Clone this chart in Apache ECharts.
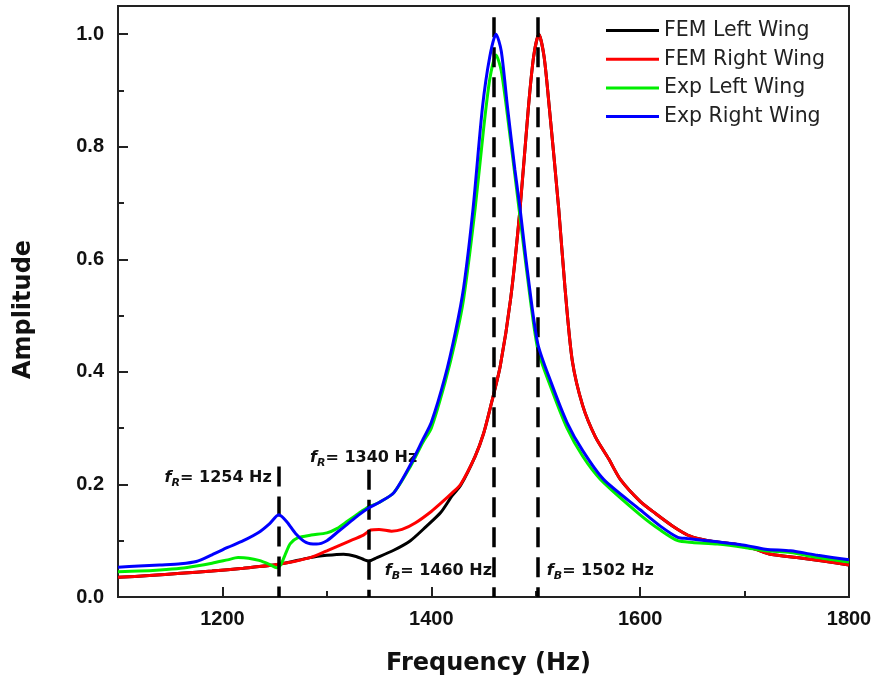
<!DOCTYPE html>
<html>
<head>
<meta charset="utf-8">
<script src="https://cdn.jsdelivr.net/npm/echarts@6/dist/echarts.min.js"></script>
<style>html,body{margin:0;padding:0;background:#fff}#c{width:875px;height:679px}</style>
</head>
<body>
<div id="c"></div>
<script>
// ---- Data ----
const femLeftFreq = [1100,1130,1160,1190,1220,1254,1284,1300,1316,1328,1336,1340,1348,1364,1380,1395,1409,1420,1428,1442,1450,1457,1466,1476,1485,1493,1498,1503,1508,1513,1522,1528,1535,1545,1557,1570,1581,1600,1615,1632,1648,1665,1690,1710,1725,1750,1775,1800];
const femLeftAmp  = [0.035,0.038,0.042,0.046,0.051,0.058,0.070,0.074,0.076,0.072,0.066,0.064,0.070,0.083,0.100,0.125,0.150,0.180,0.198,0.250,0.290,0.340,0.410,0.530,0.690,0.870,0.960,1.000,0.960,0.870,0.690,0.550,0.420,0.340,0.285,0.245,0.209,0.170,0.148,0.125,0.108,0.100,0.094,0.085,0.076,0.070,0.064,0.057];

const femRightFreq = [1100,1130,1160,1190,1220,1254,1284,1300,1320,1335,1342,1350,1362,1372,1385,1400,1410,1420,1428,1442,1450,1457,1466,1476,1485,1493,1498,1503,1508,1513,1522,1528,1535,1545,1557,1570,1581,1600,1615,1632,1648,1665,1690,1710,1725,1750,1775,1800];
const femRightAmp  = [0.035,0.038,0.042,0.046,0.051,0.058,0.070,0.082,0.098,0.110,0.119,0.120,0.117,0.120,0.132,0.152,0.168,0.185,0.200,0.250,0.290,0.340,0.410,0.530,0.690,0.870,0.960,1.000,0.960,0.870,0.690,0.550,0.420,0.340,0.285,0.245,0.209,0.170,0.148,0.125,0.108,0.100,0.094,0.085,0.076,0.070,0.064,0.057];

const expLeftFreq = [1100,1120,1140,1160,1175,1190,1205,1215,1225,1235,1245,1252,1256,1260,1265,1272,1285,1300,1310,1320,1330,1340,1350,1364,1380,1392,1400,1413,1423,1431,1442,1450,1456,1462,1467,1474,1484,1492,1502,1515,1530,1545,1562,1600,1620,1636,1650,1674,1700,1720,1744,1770,1800];
const expLeftAmp  = [0.045,0.046,0.048,0.051,0.055,0.060,0.066,0.070,0.069,0.065,0.058,0.052,0.058,0.075,0.095,0.105,0.110,0.114,0.122,0.135,0.148,0.160,0.168,0.185,0.232,0.275,0.300,0.380,0.455,0.530,0.690,0.830,0.920,0.963,0.935,0.840,0.690,0.570,0.440,0.370,0.300,0.250,0.209,0.146,0.118,0.100,0.097,0.094,0.088,0.082,0.079,0.070,0.062];

const expRightFreq = [1100,1120,1140,1160,1175,1190,1205,1220,1235,1245,1254,1262,1270,1280,1290,1300,1310,1320,1330,1340,1350,1364,1380,1392,1400,1413,1423,1431,1440,1449,1456,1462,1467,1473,1480,1485,1492,1502,1515,1530,1545,1565,1600,1620,1636,1645,1674,1700,1720,1744,1770,1800];
const expRightAmp  = [0.053,0.055,0.057,0.059,0.063,0.075,0.088,0.100,0.115,0.130,0.146,0.133,0.113,0.097,0.094,0.100,0.115,0.130,0.145,0.158,0.168,0.185,0.235,0.280,0.310,0.390,0.470,0.550,0.690,0.870,0.960,1.000,0.970,0.870,0.760,0.690,0.580,0.450,0.380,0.310,0.260,0.209,0.155,0.125,0.106,0.104,0.098,0.092,0.085,0.082,0.074,0.066];

const seriesNames = ['FEM Left Wing','FEM Right Wing','Exp Left Wing','Exp Right Wing'];

// Marked frequencies (dashed lines) and their labels
const markFreq = [1254, 1340, 1460, 1502];
const markTop  = [0.232, 0.226, 1.03, 1.03];
const markSub  = ['R', 'R', 'B', 'B'];
const markLabelY = [0.212, 0.248, 0.046, 0.046];

// Tick values
const xMajorTicks = [1200, 1400, 1600, 1800];
const xMinorTicks = [1300, 1500, 1700];
const yMajorTicks = [0, 0.2, 0.4, 0.6, 0.8, 1.0];
const yMinorTicks = [0.1, 0.3, 0.5, 0.7, 0.9];

// ---- Chart ----
const zip = (xs, ys) => xs.map((x, i) => [x, ys[i]]);
const colors = ['#000000', '#ff0000', '#00ee00', '#0000ff'];
const dataSets = [
  zip(femLeftFreq, femLeftAmp),
  zip(femRightFreq, femRightAmp),
  zip(expLeftFreq, expLeftAmp),
  zip(expRightFreq, expRightAmp)
];

const lineSeries = seriesNames.map((name, i) => ({
  name: name,
  type: 'line',
  data: dataSets[i],
  smooth: 0.25,
  showSymbol: false,
  symbol: 'none',
  color: colors[i],
  lineStyle: { color: colors[i], width: 3 },
  z: 2 + i
}));

const labelPos = ['left', 'inside', 'left', 'right'];
const labelDist = [7, 0, 2, 9];
const labelOffset = [[0,0], [-5,0], [0,0], [0,0]];

const richStyle = {
  f: { fontFamily: 'DejaVu Sans', fontWeight: 'bold', fontStyle: 'italic', fontSize: 16, color: '#111', lineHeight: 22, verticalAlign: 'middle' },
  s: { fontFamily: 'DejaVu Sans', fontWeight: 'bold', fontStyle: 'italic', fontSize: 11, color: '#111', lineHeight: 22, verticalAlign: 'bottom' },
  t: { fontFamily: 'DejaVu Sans', fontWeight: 'bold', fontSize: 16, color: '#111', lineHeight: 22, verticalAlign: 'middle' }
};

const helperSeries = {
  name: 'markers',
  type: 'line',
  data: [],
  z: 10,
  silent: true,
  markLine: {
    silent: true,
    symbol: ['none', 'none'],
    label: { show: false },
    lineStyle: { color: '#000', width: 3.5, type: [20, 10] },
    emphasis: { disabled: true },
    data: markFreq.map((f, i) => [{ coord: [f, markTop[i]] }, { coord: [f, 0] }])
  },
  markPoint: {
    silent: true,
    symbol: 'circle',
    symbolSize: 0,
    data: markFreq.map((f, i) => ({
      coord: [f, markLabelY[i]],
      label: {
        show: true,
        position: labelPos[i],
        distance: labelDist[i],
        offset: labelOffset[i],
        formatter: '{f|f}{s|' + markSub[i] + '}{t|= ' + f + ' Hz}',
        rich: richStyle
      }
    }))
  }
};

const axisColor = '#222';
const chart = echarts.init(document.getElementById('c'), null, { renderer: 'canvas' });
chart.setOption({
  animation: false,
  backgroundColor: '#fff',
  grid: { left: 118, right: 26, top: 6, bottom: 82, show: true, borderColor: axisColor, borderWidth: 2, containLabel: false, outerBoundsMode: 'none' },
  legend: {
    data: seriesNames,
    orient: 'vertical',
    left: 606,
    top: 20,
    padding: 0,
    itemGap: 7.7,
    itemWidth: 53,
    itemHeight: 3,
    icon: 'rect',
    textStyle: { fontFamily: 'DejaVu Sans', fontSize: 20.5, color: '#222' },
    selectedMode: false
  },
  xAxis: [{
    type: 'value',
    min: 1100, max: 1800,
    name: 'Frequency (Hz)',
    nameLocation: 'middle',
    nameGap: 55,
    nameTextStyle: { fontFamily: 'DejaVu Sans', fontWeight: 'bold', fontSize: 24, color: '#111', padding: [0, 0, 0, 10] },
    axisLine: { show: true, lineStyle: { color: axisColor, width: 2 } },
    axisTick: { show: true, inside: true, length: 10, customValues: xMajorTicks, lineStyle: { color: axisColor, width: 2 } },
    axisLabel: { show: true, customValues: xMajorTicks, margin: 12, formatter: v => String(v), fontFamily: 'Liberation Sans', fontWeight: 'bold', fontSize: 20, color: '#111' },
    splitLine: { show: false }
  }, {
    type: 'value',
    min: 1100, max: 1800,
    position: 'bottom',
    axisLine: { show: false },
    axisTick: { show: true, inside: true, length: 6, customValues: xMinorTicks, lineStyle: { color: axisColor, width: 2 } },
    axisLabel: { show: false },
    splitLine: { show: false }
  }],
  yAxis: [{
    type: 'value',
    min: 0, max: 1.05,
    name: 'Amplitude',
    nameLocation: 'middle',
    nameGap: 82,
    nameTextStyle: { fontFamily: 'DejaVu Sans', fontWeight: 'bold', fontSize: 24, color: '#111', padding: [0, 16, 0, 0] },
    axisLine: { show: true, lineStyle: { color: axisColor, width: 2 } },
    axisTick: { show: true, inside: true, length: 10, customValues: yMajorTicks, lineStyle: { color: axisColor, width: 2 } },
    axisLabel: { show: true, customValues: yMajorTicks, margin: 14, formatter: v => v.toFixed(1), fontFamily: 'Liberation Sans', fontWeight: 'bold', fontSize: 20, color: '#111' },
    splitLine: { show: false }
  }, {
    type: 'value',
    min: 0, max: 1.05,
    position: 'left',
    axisLine: { show: false },
    axisTick: { show: true, inside: true, length: 6, customValues: yMinorTicks, lineStyle: { color: axisColor, width: 2 } },
    axisLabel: { show: false },
    splitLine: { show: false }
  }],
  series: lineSeries.concat([helperSeries])
});
</script>
</body>
</html>
